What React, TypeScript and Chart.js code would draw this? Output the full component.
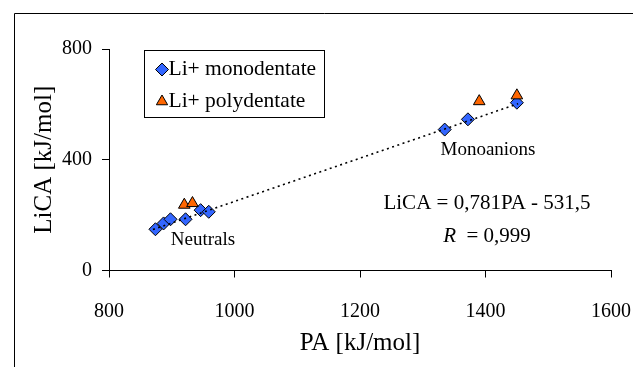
import React, { useEffect, useRef } from 'react';
import { Chart, registerables } from 'chart.js';
import { drawPoint } from 'chart.js/helpers';

Chart.register(...registerables);

// Proton affinity vs. lithium cation affinity, kJ/mol
const monoPA = [874, 887, 898, 922, 946, 959, 1335, 1372, 1450];
const monoLiCA = [149, 170, 185, 185, 218, 212, 509, 546, 606];
const polyPA = [920, 933, 1390, 1450];
const polyLiCA = [237, 243, 611, 632];

// Linear fit: LiCA = slope * PA + intercept
const fitSlope = 0.781;
const fitIntercept = -531.5;
const fitRange = [870, 1452];

const xTicks = [800, 1000, 1200, 1400, 1600];
const yTicks = [0, 400, 800];

const seriesLabels = ['Li+ monodentate', 'Li+ polydentate'];
const groupLabels = ['Neutrals', 'Monoanions'];
const fitLabel = 'LiCA = 0,781PA - 531,5';
const rSymbol = 'R';
const rValue = '  = 0,999';
const xTitle = 'PA [kJ/mol]';
const yTitle = 'LiCA [kJ/mol]';

const SERIF = "'Liberation Serif', 'DejaVu Serif', serif";
const BLUE = '#3366ff';
const ORANGE = '#ff6600';

const overlay = {
  id: 'overlay',
  afterDraw(chart: any) {
    const { ctx } = chart;
    const area = chart.chartArea;
    ctx.save();

    // outer frame
    ctx.strokeStyle = '#000';
    ctx.lineWidth = 1;
    ctx.beginPath();
    ctx.moveTo(14.5, chart.height + 5);
    ctx.lineTo(14.5, 13.5);
    ctx.lineTo(chart.width + 5, 13.5);
    ctx.stroke();

    // legend box
    const lx = area.left + 35.5;
    const ly = area.top + 1.5;
    ctx.fillStyle = '#fff';
    ctx.fillRect(lx, ly, 180, 67);
    ctx.strokeRect(lx, ly, 180, 67);

    const entries = [
      { label: seriesLabels[0], style: 'rectRot', color: BLUE, dy: 19 },
      { label: seriesLabels[1], style: 'triangle', color: ORANGE, dy: 51 },
    ];
    entries.forEach((e) => {
      ctx.fillStyle = e.color;
      ctx.strokeStyle = '#000';
      ctx.lineWidth = 1;
      drawPoint(ctx, { pointStyle: e.style, radius: 6.5, borderWidth: 1, rotation: 0 } as any, lx + 17.5, ly + e.dy);
      ctx.fillStyle = '#000';
      ctx.font = `21.5px ${SERIF}`;
      ctx.textAlign = 'left';
      ctx.textBaseline = 'middle';
      ctx.fillText(e.label, lx + 24, ly + e.dy);
    });

    // group annotations
    ctx.fillStyle = '#000';
    ctx.textAlign = 'center';
    ctx.textBaseline = 'middle';
    ctx.font = `19px ${SERIF}`;
    ctx.fillText(groupLabels[0], area.left + 94, area.top + 191);
    ctx.fillText(groupLabels[1], area.left + 379, area.top + 101);

    // fit equation
    ctx.font = `21px ${SERIF}`;
    ctx.fillText(fitLabel, area.left + 378, area.top + 154);

    // correlation coefficient
    ctx.textAlign = 'left';
    ctx.font = `italic 21px ${SERIF}`;
    const wR = ctx.measureText(rSymbol).width;
    ctx.font = `21px ${SERIF}`;
    const wV = ctx.measureText(rValue).width;
    const startX = area.left + 378 - (wR + wV) / 2;
    ctx.font = `italic 21px ${SERIF}`;
    ctx.fillText(rSymbol, startX, area.top + 187);
    ctx.font = `21px ${SERIF}`;
    ctx.fillText(rValue, startX + wR, area.top + 187);

    ctx.restore();
  },
};

export default function App() {
  const ref = useRef<HTMLCanvasElement>(null);

  useEffect(() => {
    const monoData = monoPA.map((x, i) => ({ x, y: monoLiCA[i] }));
    const polyData = polyPA.map((x, i) => ({ x, y: polyLiCA[i] }));
    const fitData = fitRange.map((x) => ({ x, y: fitSlope * x + fitIntercept }));

    const axisGrid = {
      display: true,
      drawOnChartArea: false,
      drawTicks: true,
      tickLength: 7,
      tickColor: '#000',
      lineWidth: 1,
    };

    const chart = new Chart(ref.current!, {
      type: 'scatter',
      data: {
        datasets: [
          {
            label: 'fit',
            data: fitData,
            showLine: true,
            borderColor: '#000',
            borderWidth: 1.6,
            borderDash: [2, 3.5],
            pointRadius: 0,
            order: 0,
          },
          {
            label: seriesLabels[1],
            data: polyData,
            pointStyle: 'triangle',
            pointRadius: 6.7,
            backgroundColor: ORANGE,
            borderColor: '#000',
            borderWidth: 1,
            order: 1,
          },
          {
            label: seriesLabels[0],
            data: monoData,
            pointStyle: 'rectRot',
            pointRadius: 6.5,
            backgroundColor: BLUE,
            borderColor: '#000',
            borderWidth: 1,
            order: 2,
          },
        ] as any,
      },
      options: {
        responsive: false,
        devicePixelRatio: 1,
        animation: false,
        events: [],
        layout: { padding: { left: 0, top: 49, right: 22, bottom: 0 } },
        plugins: {
          legend: { display: false },
          tooltip: { enabled: false },
        },
        scales: {
          x: {
            type: 'linear',
            min: 800,
            max: 1600,
            afterBuildTicks: (s: any) => {
              s.ticks = xTicks.map((value) => ({ value }));
            },
            afterFit: (s: any) => {
              s.height = 96.5;
              s.paddingLeft = 0;
              s.paddingRight = 0;
            },
            grid: axisGrid,
            border: { display: true, color: '#000', width: 1 },
            ticks: {
              color: '#000',
              padding: 22,
              maxRotation: 0,
              font: { family: SERIF, size: 20 },
              callback: (v: any) => String(v),
            },
            title: {
              display: true,
              text: xTitle,
              color: '#000',
              padding: { top: 0, bottom: 9 },
              font: { family: SERIF, size: 25 },
            },
          },
          y: {
            type: 'linear',
            min: 0,
            max: 800,
            afterBuildTicks: (s: any) => {
              s.ticks = yTicks.map((value) => ({ value }));
            },
            afterFit: (s: any) => {
              s.width = 109;
              s.paddingTop = 0;
              s.paddingBottom = 0;
            },
            grid: axisGrid,
            border: { display: true, color: '#000', width: 1 },
            ticks: {
              color: '#000',
              padding: 10,
              font: { family: SERIF, size: 20 },
              callback: (v: any) => String(v),
            },
            title: {
              display: true,
              text: yTitle,
              color: '#000',
              padding: { top: 29, bottom: 0 },
              font: { family: SERIF, size: 25 },
            },
          },
        },
      } as any,
      plugins: [overlay],
    });

    return () => chart.destroy();
  }, []);

  return (
    <div style={{ position: 'fixed', left: 0, top: 0, width: 633, height: 367, background: '#fff' }}>
      <canvas ref={ref} width={633} height={367} style={{ display: 'block', width: 633, height: 367 }} />
    </div>
  );
}
